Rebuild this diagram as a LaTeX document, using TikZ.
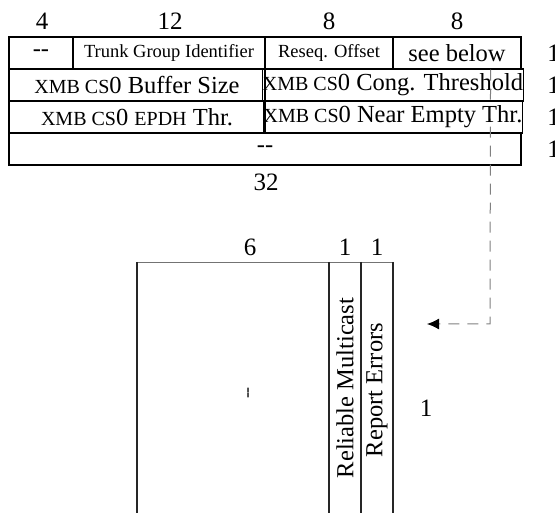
\documentclass[tikz,border=0pt]{standalone}
\usepackage{fontspec}
\setmainfont{Liberation Serif}
\usetikzlibrary{arrows.meta}
\newcommand{\ssc}[1]{{\fontsize{20}{24}\selectfont #1}}
\newcommand{\twohy}{-{}-}
\begin{document}
\begin{tikzpicture}[x=1pt,y=-1pt,
  lbl/.style={font=\fontsize{25}{30}\selectfont, inner sep=0pt},
  cell/.style={draw=black, line width=1.1pt, rectangle, inner sep=0pt, minimum height=32pt, font=\fontsize{24.5}{29}\selectfont},
  smallcell/.style={cell, font=\fontsize{18.5}{22}\selectfont},
  field/.style={line width=1.3pt, draw=black!85},
  topline/.style={line width=0.8pt, draw=black!55},
  vtext/.style={rotate=90, inner sep=0pt, font=\fontsize{24.5}{29}\selectfont},
  dashline/.style={draw=black!50, line width=1pt, dash pattern=on 11pt off 8pt},
  tip/.style={-{Latex[black,length=12pt,width=11pt]}}
]
\useasboundingbox (0,0) rectangle (555,513);
% column widths labels
\node[lbl] (w4) at (42,21.5) {4};
\node[lbl] (w12) at (170,21.5) {12};
\node[lbl] (w8a) at (329,21.5) {8};
\node[lbl] (w8b) at (457,21.5) {8};
% row 1
\node[cell, minimum width=64pt] (c1) at (41,53) {\twohy};
\node[smallcell, minimum width=192pt] (c2) at (169,53) {Trunk Group Identifier};
\node[smallcell, minimum width=128pt] (c3) at (329,53) {Reseq. Offset};
\node[cell, minimum width=128pt] (c4) at (457,53) {see below};
% row 2
\node[cell, minimum width=256pt] (r2a) at (137,85) {\ssc{XMB CS}0 Buffer Size};
\node[cell, minimum width=256pt] (r2b) at (393,85) {\ssc{XMB CS}0 Cong. Threshold};
% row 3
\node[cell, minimum width=256pt] (r3a) at (137,117) {\ssc{XMB CS}0 \ssc{EPDH} Thr.};
\node[cell, minimum width=256pt] (r3b) at (393,117) {\ssc{XMB CS}0 Near Empty Thr.};
% row 4
\node[cell, minimum width=512pt] (r4) at (265,149) {\twohy};
% row counts
\node[lbl] (n1) at (553.5,53) {1};
\node[lbl] (n2) at (553.5,85) {1};
\node[lbl] (n3) at (553.5,117) {1};
\node[lbl] (n4) at (553.5,149) {1};
\node[lbl] (tot) at (266,182) {32};
% lower detail
\node[lbl] (b6) at (250,247) {6};
\node[lbl] (b1a) at (345,247) {1};
\node[lbl] (b1b) at (377,247) {1};
\draw[topline] (137,262) -- (393,262);
\draw[field] (137,262) -- (137,513);
\draw[field] (329,262) -- (329,513);
\draw[field] (361,262) -- (361,513);
\draw[field] (393,262) -- (393,513);
\node[rotate=90, inner sep=0pt, font=\fontsize{18}{22}\selectfont] (f6) at (250,393) {\twohy};
\node[vtext] (frm) at (345,388) {Reliable Multicast};
\node[vtext] (fre) at (377,390) {Report Errors};
\node[lbl] (brow) at (426,408) {1};
% dashed pointer
\coordinate (ds) at ([xshift=-31pt]c4.south east);
\coordinate (dc) at (490,324);
\coordinate (de) at (427,324);
\draw[dashline] (ds) -- (dc) -- ([xshift=10pt]de);
\draw[tip, draw=black!50, line width=1pt] ([xshift=11pt]de) -- (de);
\end{tikzpicture}
\end{document}
